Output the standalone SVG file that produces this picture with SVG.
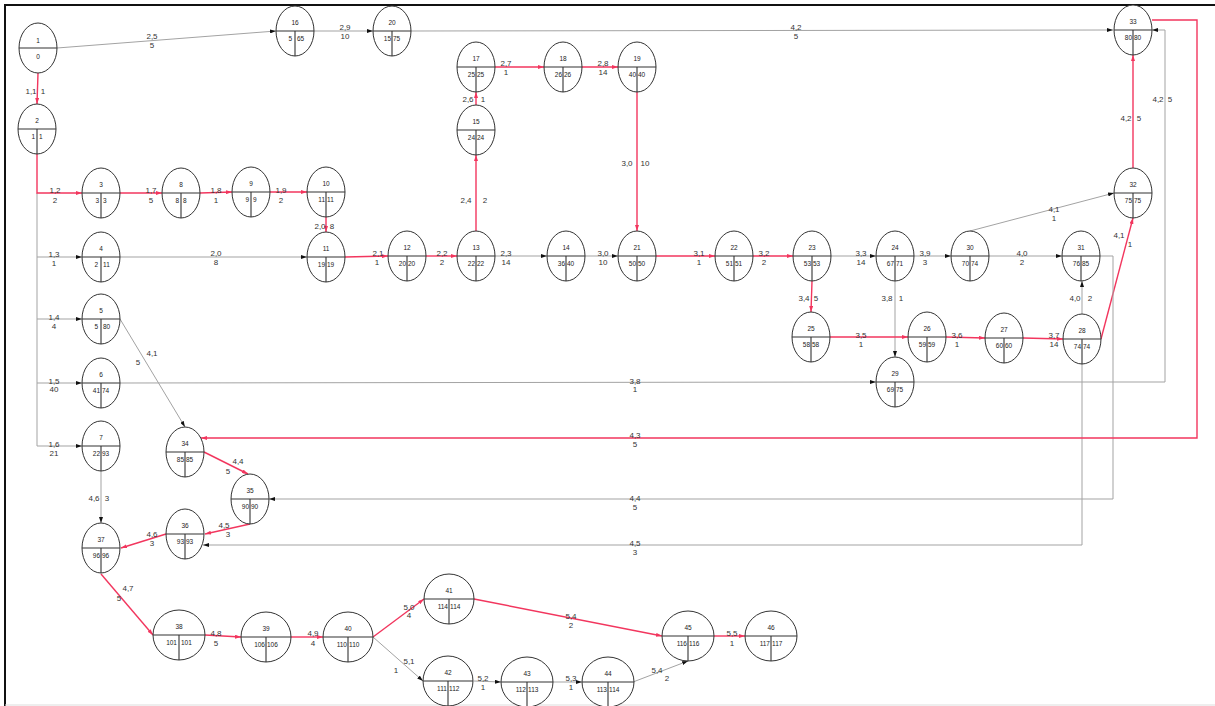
<svg xmlns="http://www.w3.org/2000/svg" width="1215" height="706" viewBox="0 0 1215 706">
<style>
.nd ellipse{fill:#fff;stroke:#333;stroke-width:1}
.nd line{stroke:#333;stroke-width:1.1}
.nd text{font-family:"Liberation Sans",Arial,sans-serif;font-size:6.5px;fill:#222}
.t{text-anchor:middle}
.l{text-anchor:end}
.r{text-anchor:start}
.g{fill:none;stroke:#a3a3a3;stroke-width:1;marker-end:url(#ag)}
.gn{fill:none;stroke:#a3a3a3;stroke-width:1}
.rd{fill:none;stroke:#f2365e;stroke-width:1.4;marker-end:url(#ar)}
.rn{fill:none;stroke:#f2365e;stroke-width:1.4}
.lb text{font-family:"Liberation Sans",Arial,sans-serif;font-size:8px;fill:#333;text-anchor:middle}
</style>
<defs>
<marker id="ag" viewBox="0 0 6 4" refX="6" refY="2" markerWidth="6" markerHeight="4" markerUnits="userSpaceOnUse" orient="auto"><path d="M0,0 L6,2 L0,4 Z" fill="#111"/></marker>
<marker id="ar" viewBox="0 0 6 4" refX="6" refY="2" markerWidth="6" markerHeight="4" markerUnits="userSpaceOnUse" orient="auto"><path d="M0,0 L6,2 L0,4 Z" fill="#f2365e"/></marker>
</defs>
<rect width="1215" height="706" fill="#fff"/>
<path d="M5,706 L5,5 L1215,5" fill="none" stroke="#111" stroke-width="2"/>
<line x1="5" y1="705" x2="1215" y2="705" stroke="#ddd" stroke-width="1"/>

<g id="connectors">
<path class="g" d="M57,48 L276,31"/>
<path class="g" d="M314,31 L373,31"/>
<path class="g" d="M411,31 L1113,30"/>
<path class="rd" d="M38,73 L37,104"/>
<path class="gn" d="M37,193 L37,446"/>
<path class="rd" d="M37,154 L37,193 L82,193"/>
<path class="g" d="M37,257 L82,257"/>
<path class="g" d="M37,319 L82,319"/>
<path class="g" d="M37,383 L82,383"/>
<path class="g" d="M37,446 L82,446"/>
<path class="rd" d="M120,193 L162,193"/>
<path class="rd" d="M200,193 L232,192"/>
<path class="rd" d="M270,192 L307,192"/>
<path class="rd" d="M326,217 L326,232"/>
<path class="g" d="M120,257 L307,257"/>
<path class="rd" d="M345,257 L388,256"/>
<path class="rd" d="M426,256 L457,256"/>
<path class="rd" d="M476,231 L476,155"/>
<path class="rd" d="M476,105 L476,92"/>
<path class="rd" d="M495,67 L544,67"/>
<path class="rd" d="M582,67 L618,67"/>
<path class="rd" d="M637,92 L637,231"/>
<path class="g" d="M495,256 L547,256"/>
<path class="g" d="M585,256 L618,256"/>
<path class="rd" d="M656,256 L715,256"/>
<path class="rd" d="M753,256 L793,256"/>
<path class="g" d="M831,256 L876,256"/>
<path class="g" d="M914,256 L951,256"/>
<path class="g" d="M989,256 L1062,256"/>
<path class="g" d="M970,231 L1114,193"/>
<path class="rd" d="M812,281 L811,312"/>
<path class="g" d="M895,281 L895,357"/>
<path class="rd" d="M830,337 L908,337"/>
<path class="rd" d="M946,337 L985,338"/>
<path class="rd" d="M1023,338 L1063,339"/>
<path class="g" d="M1082,314 L1082,281"/>
<path class="rd" d="M1101,339 L1133,218"/>
<path class="rd" d="M1133,168 L1133,55"/>
<path class="g" d="M120,383 L876,382"/>
<path class="g" d="M914,382 L1165,382 L1165,30 L1152,30"/>
<path class="g" d="M1100,256 L1113,256 L1113,499 L269,499"/>
<path class="g" d="M1082,364 L1082,545 L203,545"/>
<path class="rd" d="M1152,20 L1197,20 L1197,438 L201,438"/>
<path class="g" d="M120,319 L185,427"/>
<path class="rd" d="M204,452 L248,474"/>
<path class="rd" d="M250,524 L205,534"/>
<path class="rd" d="M166,534 L121,548"/>
<path class="g" d="M101,471 L101,523"/>
<path class="rd" d="M101,574 L153,635"/>
<path class="rd" d="M205,635 L241,637"/>
<path class="rd" d="M291,637 L323,637"/>
<path class="rd" d="M373,637 L424,599"/>
<path class="g" d="M373,637 L423,681"/>
<path class="rd" d="M474,599 L662,636"/>
<path class="g" d="M474,681 L501,682"/>
<path class="g" d="M553,682 L582,682"/>
<path class="g" d="M633,682 L688,661"/>
<path class="rd" d="M714,636 L745,636"/>
</g>

<g id="labels" class="lb">
<text x="152" y="39">2,5</text><text x="152" y="48">5</text>
<text x="345" y="30">2,9</text><text x="345" y="39">10</text>
<text x="796" y="30">4,2</text><text x="796" y="39">5</text>
<text x="31" y="94">1,1</text><text x="43" y="94">1</text>
<text x="55" y="193">1,2</text><text x="55" y="203">2</text>
<text x="54" y="257">1,3</text><text x="54" y="266">1</text>
<text x="54" y="320">1,4</text><text x="54" y="329">4</text>
<text x="54" y="384">1,5</text><text x="54" y="392">40</text>
<text x="54" y="447">1,6</text><text x="54" y="456">21</text>
<text x="151" y="193">1,7</text><text x="151" y="203">5</text>
<text x="216" y="193">1,8</text><text x="216" y="203">1</text>
<text x="281" y="193">1,9</text><text x="281" y="203">2</text>
<text x="320" y="229">2,0</text><text x="332" y="229">8</text>
<text x="216" y="256">2,0</text><text x="216" y="265">8</text>
<text x="378" y="256">2,1</text><text x="377" y="265">1</text>
<text x="442" y="256">2,2</text><text x="442" y="265">2</text>
<text x="466" y="203">2,4</text><text x="485" y="203">2</text>
<text x="468" y="102">2,6</text><text x="483" y="102">1</text>
<text x="506" y="66">2,7</text><text x="506" y="75">1</text>
<text x="603" y="66">2,8</text><text x="603" y="75">14</text>
<text x="627" y="166">3,0</text><text x="645" y="166">10</text>
<text x="506" y="256">2,3</text><text x="506" y="265">14</text>
<text x="603" y="256">3,0</text><text x="603" y="265">10</text>
<text x="699" y="256">3,1</text><text x="699" y="265">1</text>
<text x="764" y="256">3,2</text><text x="764" y="265">2</text>
<text x="804" y="301">3,4</text><text x="816" y="301">5</text>
<text x="861" y="256">3,3</text><text x="861" y="265">14</text>
<text x="925" y="256">3,9</text><text x="925" y="265">3</text>
<text x="1022" y="256">4,0</text><text x="1022" y="265">2</text>
<text x="1054" y="212">4,1</text><text x="1054" y="221">1</text>
<text x="887" y="301">3,8</text><text x="901" y="301">1</text>
<text x="1075" y="301">4,0</text><text x="1090" y="301">2</text>
<text x="861" y="338">3,5</text><text x="861" y="347">1</text>
<text x="957" y="338">3,6</text><text x="957" y="347">1</text>
<text x="1054" y="338">3,7</text><text x="1054" y="347">14</text>
<text x="1119" y="238">4,1</text><text x="1130" y="247">1</text>
<text x="1126" y="121">4,2</text><text x="1139" y="121">5</text>
<text x="1158" y="102">4,2</text><text x="1170" y="102">5</text>
<text x="635" y="384">3,8</text><text x="635" y="392">1</text>
<text x="635" y="438">4,3</text><text x="635" y="447">5</text>
<text x="635" y="501">4,4</text><text x="635" y="510">5</text>
<text x="635" y="546">4,5</text><text x="635" y="555">3</text>
<text x="152" y="356">4,1</text><text x="138" y="365">5</text>
<text x="238" y="464">4,4</text><text x="228" y="474">5</text>
<text x="224" y="528">4,5</text><text x="228" y="537">3</text>
<text x="152" y="537">4,6</text><text x="152" y="546">3</text>
<text x="94" y="501">4,6</text><text x="107" y="501">3</text>
<text x="128" y="591">4,7</text><text x="119" y="601">5</text>
<text x="216" y="636">4,8</text><text x="216" y="646">5</text>
<text x="313" y="636">4,9</text><text x="313" y="646">4</text>
<text x="409" y="610">5,0</text><text x="409" y="618">4</text>
<text x="409" y="664">5,1</text><text x="396" y="673">1</text>
<text x="571" y="619">5,4</text><text x="571" y="628">2</text>
<text x="483" y="681">5,2</text><text x="483" y="690">1</text>
<text x="571" y="681">5,3</text><text x="571" y="690">1</text>
<text x="657" y="673">5,4</text><text x="667" y="681">2</text>
<text x="732" y="636">5,5</text><text x="732" y="646">1</text>
</g>

<g id="n1" class="nd"><ellipse cx="38" cy="48" rx="19" ry="25"/><line x1="19" y1="48" x2="57" y2="48"/><text class="t" x="38" y="43">1</text><text class="t" x="38" y="59">0</text></g>
<g id="n2" class="nd"><ellipse cx="37" cy="129" rx="19" ry="25"/><line x1="18" y1="129" x2="56" y2="129"/><line x1="37" y1="129" x2="37" y2="154"/><text class="t" x="37" y="123">2</text><text class="l" x="35" y="139">1</text><text class="r" x="39" y="139">1</text></g>
<g id="n3" class="nd"><ellipse cx="101" cy="193" rx="19" ry="25"/><line x1="82" y1="193" x2="120" y2="193"/><line x1="101" y1="193" x2="101" y2="218"/><text class="t" x="101" y="187">3</text><text class="l" x="99" y="203">3</text><text class="r" x="103" y="203">3</text></g>
<g id="n4" class="nd"><ellipse cx="101" cy="257" rx="19" ry="25"/><line x1="82" y1="257" x2="120" y2="257"/><line x1="101" y1="257" x2="101" y2="282"/><text class="t" x="101" y="251">4</text><text class="l" x="98" y="267">2</text><text class="r" x="103" y="267">11</text></g>
<g id="n5" class="nd"><ellipse cx="101" cy="319" rx="19" ry="25"/><line x1="82" y1="319" x2="120" y2="319"/><line x1="101" y1="319" x2="101" y2="344"/><text class="t" x="101" y="313">5</text><text class="l" x="98" y="329">5</text><text class="r" x="103" y="329">80</text></g>
<g id="n6" class="nd"><ellipse cx="101" cy="383" rx="19" ry="25"/><line x1="82" y1="383" x2="120" y2="383"/><line x1="101" y1="383" x2="101" y2="408"/><text class="t" x="101" y="377">6</text><text class="l" x="100" y="393">41</text><text class="r" x="102" y="393">74</text></g>
<g id="n7" class="nd"><ellipse cx="101" cy="446" rx="19" ry="25"/><line x1="82" y1="446" x2="120" y2="446"/><line x1="101" y1="446" x2="101" y2="471"/><text class="t" x="101" y="440">7</text><text class="l" x="100" y="456">22</text><text class="r" x="102" y="456">93</text></g>
<g id="n8" class="nd"><ellipse cx="181" cy="193" rx="19" ry="25"/><line x1="162" y1="193" x2="200" y2="193"/><line x1="181" y1="193" x2="181" y2="218"/><text class="t" x="181" y="187">8</text><text class="l" x="179" y="203">8</text><text class="r" x="183" y="203">8</text></g>
<g id="n9" class="nd"><ellipse cx="251" cy="192" rx="19" ry="25"/><line x1="232" y1="192" x2="270" y2="192"/><line x1="251" y1="192" x2="251" y2="217"/><text class="t" x="251" y="186">9</text><text class="l" x="249" y="202">9</text><text class="r" x="253" y="202">9</text></g>
<g id="n10" class="nd"><ellipse cx="326" cy="192" rx="19" ry="25"/><line x1="307" y1="192" x2="345" y2="192"/><line x1="326" y1="192" x2="326" y2="217"/><text class="t" x="326" y="186">10</text><text class="l" x="325" y="202">11</text><text class="r" x="327" y="202">11</text></g>
<g id="n11" class="nd"><ellipse cx="326" cy="257" rx="19" ry="25"/><line x1="307" y1="257" x2="345" y2="257"/><line x1="326" y1="257" x2="326" y2="282"/><text class="t" x="326" y="251">11</text><text class="l" x="325" y="267">19</text><text class="r" x="327" y="267">19</text></g>
<g id="n12" class="nd"><ellipse cx="407" cy="256" rx="19" ry="25"/><line x1="388" y1="256" x2="426" y2="256"/><line x1="407" y1="256" x2="407" y2="281"/><text class="t" x="407" y="250">12</text><text class="l" x="406" y="266">20</text><text class="r" x="408" y="266">20</text></g>
<g id="n13" class="nd"><ellipse cx="476" cy="256" rx="19" ry="25"/><line x1="457" y1="256" x2="495" y2="256"/><line x1="476" y1="256" x2="476" y2="281"/><text class="t" x="476" y="250">13</text><text class="l" x="475" y="266">22</text><text class="r" x="477" y="266">22</text></g>
<g id="n14" class="nd"><ellipse cx="566" cy="256" rx="19" ry="25"/><line x1="547" y1="256" x2="585" y2="256"/><line x1="566" y1="256" x2="566" y2="281"/><text class="t" x="566" y="250">14</text><text class="l" x="565" y="266">36</text><text class="r" x="567" y="266">40</text></g>
<g id="n15" class="nd"><ellipse cx="476" cy="130" rx="19" ry="25"/><line x1="457" y1="130" x2="495" y2="130"/><line x1="476" y1="130" x2="476" y2="155"/><text class="t" x="476" y="124">15</text><text class="l" x="475" y="140">24</text><text class="r" x="477" y="140">24</text></g>
<g id="n16" class="nd"><ellipse cx="295" cy="31" rx="19" ry="25"/><line x1="276" y1="31" x2="314" y2="31"/><line x1="295" y1="31" x2="295" y2="56"/><text class="t" x="295" y="25">16</text><text class="l" x="292" y="41">5</text><text class="r" x="297" y="41">65</text></g>
<g id="n17" class="nd"><ellipse cx="476" cy="67" rx="19" ry="25"/><line x1="457" y1="67" x2="495" y2="67"/><line x1="476" y1="67" x2="476" y2="92"/><text class="t" x="476" y="61">17</text><text class="l" x="475" y="77">25</text><text class="r" x="477" y="77">25</text></g>
<g id="n18" class="nd"><ellipse cx="563" cy="67" rx="19" ry="25"/><line x1="544" y1="67" x2="582" y2="67"/><line x1="563" y1="67" x2="563" y2="92"/><text class="t" x="563" y="61">18</text><text class="l" x="562" y="77">26</text><text class="r" x="564" y="77">26</text></g>
<g id="n19" class="nd"><ellipse cx="637" cy="67" rx="19" ry="25"/><line x1="618" y1="67" x2="656" y2="67"/><line x1="637" y1="67" x2="637" y2="92"/><text class="t" x="637" y="61">19</text><text class="l" x="636" y="77">40</text><text class="r" x="638" y="77">40</text></g>
<g id="n20" class="nd"><ellipse cx="392" cy="31" rx="19" ry="25"/><line x1="373" y1="31" x2="411" y2="31"/><line x1="392" y1="31" x2="392" y2="56"/><text class="t" x="392" y="25">20</text><text class="l" x="391" y="41">15</text><text class="r" x="393" y="41">75</text></g>
<g id="n21" class="nd"><ellipse cx="637" cy="256" rx="19" ry="25"/><line x1="618" y1="256" x2="656" y2="256"/><line x1="637" y1="256" x2="637" y2="281"/><text class="t" x="637" y="250">21</text><text class="l" x="636" y="266">50</text><text class="r" x="638" y="266">50</text></g>
<g id="n22" class="nd"><ellipse cx="734" cy="256" rx="19" ry="25"/><line x1="715" y1="256" x2="753" y2="256"/><line x1="734" y1="256" x2="734" y2="281"/><text class="t" x="734" y="250">22</text><text class="l" x="733" y="266">51</text><text class="r" x="735" y="266">51</text></g>
<g id="n23" class="nd"><ellipse cx="812" cy="256" rx="19" ry="25"/><line x1="793" y1="256" x2="831" y2="256"/><line x1="812" y1="256" x2="812" y2="281"/><text class="t" x="812" y="250">23</text><text class="l" x="811" y="266">53</text><text class="r" x="813" y="266">53</text></g>
<g id="n24" class="nd"><ellipse cx="895" cy="256" rx="19" ry="25"/><line x1="876" y1="256" x2="914" y2="256"/><line x1="895" y1="256" x2="895" y2="281"/><text class="t" x="895" y="250">24</text><text class="l" x="894" y="266">67</text><text class="r" x="896" y="266">71</text></g>
<g id="n25" class="nd"><ellipse cx="811" cy="337" rx="19" ry="25"/><line x1="792" y1="337" x2="830" y2="337"/><line x1="811" y1="337" x2="811" y2="362"/><text class="t" x="811" y="331">25</text><text class="l" x="810" y="347">58</text><text class="r" x="812" y="347">58</text></g>
<g id="n26" class="nd"><ellipse cx="927" cy="337" rx="19" ry="25"/><line x1="908" y1="337" x2="946" y2="337"/><line x1="927" y1="337" x2="927" y2="362"/><text class="t" x="927" y="331">26</text><text class="l" x="926" y="347">59</text><text class="r" x="928" y="347">59</text></g>
<g id="n27" class="nd"><ellipse cx="1004" cy="338" rx="19" ry="25"/><line x1="985" y1="338" x2="1023" y2="338"/><line x1="1004" y1="338" x2="1004" y2="363"/><text class="t" x="1004" y="332">27</text><text class="l" x="1003" y="348">60</text><text class="r" x="1005" y="348">60</text></g>
<g id="n28" class="nd"><ellipse cx="1082" cy="339" rx="19" ry="25"/><line x1="1063" y1="339" x2="1101" y2="339"/><line x1="1082" y1="339" x2="1082" y2="364"/><text class="t" x="1082" y="333">28</text><text class="l" x="1081" y="349">74</text><text class="r" x="1083" y="349">74</text></g>
<g id="n29" class="nd"><ellipse cx="895" cy="382" rx="19" ry="25"/><line x1="876" y1="382" x2="914" y2="382"/><line x1="895" y1="382" x2="895" y2="407"/><text class="t" x="895" y="376">29</text><text class="l" x="894" y="392">69</text><text class="r" x="896" y="392">75</text></g>
<g id="n30" class="nd"><ellipse cx="970" cy="256" rx="19" ry="25"/><line x1="951" y1="256" x2="989" y2="256"/><line x1="970" y1="256" x2="970" y2="281"/><text class="t" x="970" y="250">30</text><text class="l" x="969" y="266">70</text><text class="r" x="971" y="266">74</text></g>
<g id="n31" class="nd"><ellipse cx="1081" cy="256" rx="19" ry="25"/><line x1="1062" y1="256" x2="1100" y2="256"/><line x1="1081" y1="256" x2="1081" y2="281"/><text class="t" x="1081" y="250">31</text><text class="l" x="1080" y="266">76</text><text class="r" x="1082" y="266">85</text></g>
<g id="n32" class="nd"><ellipse cx="1133" cy="193" rx="19" ry="25"/><line x1="1114" y1="193" x2="1152" y2="193"/><line x1="1133" y1="193" x2="1133" y2="218"/><text class="t" x="1133" y="187">32</text><text class="l" x="1132" y="203">75</text><text class="r" x="1134" y="203">75</text></g>
<g id="n33" class="nd"><ellipse cx="1133" cy="30" rx="19" ry="25"/><line x1="1114" y1="30" x2="1152" y2="30"/><line x1="1133" y1="30" x2="1133" y2="55"/><text class="t" x="1133" y="24">33</text><text class="l" x="1132" y="40">80</text><text class="r" x="1134" y="40">80</text></g>
<g id="n34" class="nd"><ellipse cx="185" cy="452" rx="19" ry="25"/><line x1="166" y1="452" x2="204" y2="452"/><line x1="185" y1="452" x2="185" y2="477"/><text class="t" x="185" y="446">34</text><text class="l" x="184" y="462">85</text><text class="r" x="186" y="462">85</text></g>
<g id="n35" class="nd"><ellipse cx="250" cy="499" rx="19" ry="25"/><line x1="231" y1="499" x2="269" y2="499"/><line x1="250" y1="499" x2="250" y2="524"/><text class="t" x="250" y="493">35</text><text class="l" x="249" y="509">90</text><text class="r" x="251" y="509">90</text></g>
<g id="n36" class="nd"><ellipse cx="185" cy="534" rx="19" ry="25"/><line x1="166" y1="534" x2="204" y2="534"/><line x1="185" y1="534" x2="185" y2="559"/><text class="t" x="185" y="528">36</text><text class="l" x="184" y="544">93</text><text class="r" x="186" y="544">93</text></g>
<g id="n37" class="nd"><ellipse cx="101" cy="548" rx="19" ry="25"/><line x1="82" y1="548" x2="120" y2="548"/><line x1="101" y1="548" x2="101" y2="573"/><text class="t" x="101" y="542">37</text><text class="l" x="100" y="558">96</text><text class="r" x="102" y="558">96</text></g>
<g id="n38" class="nd"><ellipse cx="179" cy="635" rx="26" ry="25"/><line x1="153" y1="635" x2="205" y2="635"/><line x1="179" y1="635" x2="179" y2="660"/><text class="t" x="179" y="629">38</text><text class="l" x="177" y="645">101</text><text class="r" x="181" y="645">101</text></g>
<g id="n39" class="nd"><ellipse cx="266" cy="637" rx="25" ry="25"/><line x1="241" y1="637" x2="291" y2="637"/><line x1="266" y1="637" x2="266" y2="662"/><text class="t" x="266" y="631">39</text><text class="l" x="265" y="647">106</text><text class="r" x="267" y="647">106</text></g>
<g id="n40" class="nd"><ellipse cx="348" cy="637" rx="25" ry="25"/><line x1="323" y1="637" x2="373" y2="637"/><line x1="348" y1="637" x2="348" y2="662"/><text class="t" x="348" y="631">40</text><text class="l" x="347" y="647">110</text><text class="r" x="349" y="647">110</text></g>
<g id="n41" class="nd"><ellipse cx="449" cy="599" rx="25" ry="25"/><line x1="424" y1="599" x2="474" y2="599"/><line x1="449" y1="599" x2="449" y2="624"/><text class="t" x="449" y="593">41</text><text class="l" x="448" y="609">114</text><text class="r" x="450" y="609">114</text></g>
<g id="n42" class="nd"><ellipse cx="448" cy="681" rx="25" ry="25"/><line x1="423" y1="681" x2="473" y2="681"/><line x1="448" y1="681" x2="448" y2="706"/><text class="t" x="448" y="675">42</text><text class="l" x="447" y="691">111</text><text class="r" x="449" y="691">112</text></g>
<g id="n43" class="nd"><ellipse cx="527" cy="682" rx="26" ry="25"/><line x1="501" y1="682" x2="553" y2="682"/><line x1="527" y1="682" x2="527" y2="706"/><text class="t" x="527" y="676">43</text><text class="l" x="526" y="692">112</text><text class="r" x="528" y="692">113</text></g>
<g id="n44" class="nd"><ellipse cx="608" cy="682" rx="26" ry="25"/><line x1="582" y1="682" x2="634" y2="682"/><line x1="608" y1="682" x2="608" y2="706"/><text class="t" x="608" y="676">44</text><text class="l" x="607" y="692">113</text><text class="r" x="609" y="692">114</text></g>
<g id="n45" class="nd"><ellipse cx="688" cy="636" rx="26" ry="25"/><line x1="662" y1="636" x2="714" y2="636"/><line x1="688" y1="636" x2="688" y2="661"/><text class="t" x="688" y="630">45</text><text class="l" x="687" y="646">116</text><text class="r" x="689" y="646">116</text></g>
<g id="n46" class="nd"><ellipse cx="771" cy="636" rx="26" ry="25"/><line x1="745" y1="636" x2="797" y2="636"/><line x1="771" y1="636" x2="771" y2="661"/><text class="t" x="771" y="630">46</text><text class="l" x="770" y="646">117</text><text class="r" x="772" y="646">117</text></g>
</svg>
